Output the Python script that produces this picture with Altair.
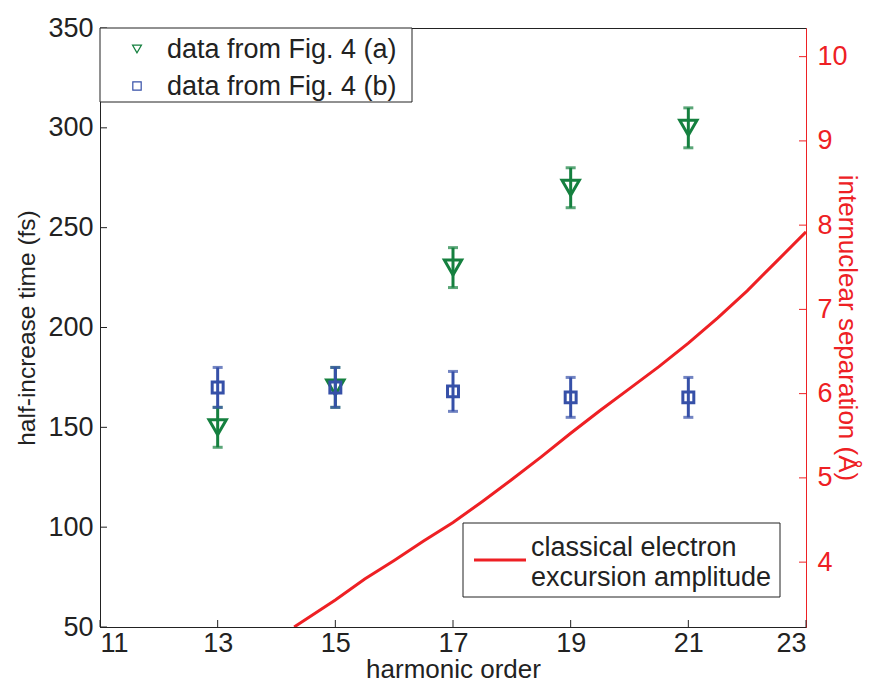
import altair as alt
import pandas as pd

# ---- data ----
harmonics = [13, 15, 17, 19, 21]
a_vals = [150, 170, 230, 270, 300]
a_lo = [140, 160, 220, 260, 290]
a_hi = [160, 180, 240, 280, 310]
b_vals = [170, 170, 168, 165, 165]
b_lo = [160, 160, 158, 155, 155]
b_hi = [180, 180, 178, 175, 175]

curve_x = [14.3, 15.0, 15.5, 16.0, 16.5, 17.0, 17.5, 18.0, 18.5, 19.0, 19.5, 20.0, 20.5, 21.0, 21.5, 22.0, 22.5, 23.0]
curve_y = [3.23, 3.55, 3.80, 4.02, 4.25, 4.47, 4.72, 4.98, 5.25, 5.53, 5.80, 6.06, 6.32, 6.60, 6.90, 7.22, 7.57, 7.92]

x_ticks = [11, 13, 15, 17, 19, 21, 23]
left_ticks = [50, 100, 150, 200, 250, 300, 350]
right_ticks = [4, 5, 6, 7, 8, 9, 10]

W, H = 706, 599
FONT = "Liberation Sans"
GREEN = "#15803f"
BLUE = "#3650a8"
RED = "#ee2024"
INK = "#222222"
TICK_FS = 27
LEG_FS = 27

df_a = pd.DataFrame({"h": harmonics, "v": a_vals, "lo": a_lo, "hi": a_hi})
df_b = pd.DataFrame({"h": harmonics, "v": b_vals, "lo": b_lo, "hi": b_hi})
df_c = pd.DataFrame({"h": curve_x, "r": curve_y})
df_xt = pd.DataFrame({"h": x_ticks})
df_lt = pd.DataFrame({"v": left_ticks})
df_rt = pd.DataFrame({"r": right_ticks})

x_scale = alt.Scale(domain=[11, 23], nice=False, zero=False)
x_axis = alt.Axis(values=x_ticks, tickSize=0, labelFontSize=TICK_FS, labelFont=FONT,
                  labelColor=INK, labelPadding=3, grid=False, domainColor=INK,
                  title="harmonic order", titleFont=FONT, titleFontSize=26,
                  titleFontWeight="normal", titleColor=INK, titlePadding=0)
yl_scale = alt.Scale(domain=[50, 350], nice=False, zero=False)
yl_axis = alt.Axis(values=left_ticks, tickSize=0, labelFontSize=TICK_FS, labelFont=FONT,
                   labelColor=INK, labelPadding=7, grid=False, domainColor=INK,
                   title="half-increase time (fs)", titleFont=FONT, titleFontSize=24.5,
                   titleFontWeight="normal", titleColor=INK, titlePadding=8)
yr_scale = alt.Scale(domain=[3.23, 10.34], nice=False, zero=False)
yr_axis = alt.Axis(values=right_ticks, orient="right", tickSize=0, labelFontSize=TICK_FS,
                   labelFont=FONT, labelColor=RED, labelPadding=11, grid=False,
                   domainColor=RED, title="internuclear separation (Å)", titleFont=FONT,
                   titleFontSize=26, titleFontWeight="normal", titleColor=RED,
                   titlePadding=-14)

X = alt.X("h:Q", scale=x_scale, axis=x_axis)
YL = lambda f: alt.Y(f"{f}:Q", scale=yl_scale, axis=yl_axis)
YR = lambda f: alt.Y(f"{f}:Q", scale=yr_scale, axis=yr_axis)


def series(df, color, shape, size):
    bar = alt.Chart(df).mark_rule(color=color, strokeWidth=3).encode(
        x=X, y=YL("lo"), y2="hi:Q")
    cap_lo = alt.Chart(df).mark_tick(color=color, orient="horizontal", size=10,
                                     thickness=3).encode(x=X, y=YL("lo"))
    cap_hi = alt.Chart(df).mark_tick(color=color, orient="horizontal", size=10,
                                     thickness=3).encode(x=X, y=YL("hi"))
    pts = alt.Chart(df).mark_point(shape=shape, size=size, color=color, filled=False,
                                   strokeWidth=3, opacity=1).encode(x=X, y=YL("v"))
    return [bar, cap_lo, cap_hi, pts]


# inward ticks
xt = alt.Chart(df_xt).mark_rule(color=INK, strokeWidth=1).encode(
    x=X, y=alt.value(H), y2=alt.value(H - 7))
lt = alt.Chart(df_lt).mark_rule(color=INK, strokeWidth=1).encode(
    y=YL("v"), x=alt.value(0), x2=alt.value(7))
rt = alt.Chart(df_rt).mark_rule(color=RED, strokeWidth=1).encode(
    y=YR("r"), x=alt.value(W), x2=alt.value(W - 7))

blank = alt.Data(values=[{}])

# legend 1 (top-left)
leg1_box = alt.Chart(blank).mark_rect(fill="white", stroke=INK, strokeWidth=1).encode(
    x=alt.value(0), x2=alt.value(312), y=alt.value(0), y2=alt.value(74))
leg1_m1 = alt.Chart(blank).mark_point(shape="triangle-down", size=80, color=GREEN,
                                      filled=False, strokeWidth=1.2, opacity=1).encode(
    x=alt.value(37), y=alt.value(21))
leg1_m2 = alt.Chart(blank).mark_point(shape="square", size=70, color=BLUE,
                                      filled=False, strokeWidth=1.2, opacity=1).encode(
    x=alt.value(37), y=alt.value(58))
leg1_t1 = alt.Chart(blank).mark_text(text="data from Fig. 4 (a)", align="left",
                                     baseline="middle", font=FONT, fontSize=LEG_FS,
                                     color=INK).encode(x=alt.value(67), y=alt.value(22))
leg1_t2 = alt.Chart(blank).mark_text(text="data from Fig. 4 (b)", align="left",
                                     baseline="middle", font=FONT, fontSize=LEG_FS,
                                     color=INK).encode(x=alt.value(67), y=alt.value(59))

# legend 2 (bottom-right)
leg2_box = alt.Chart(blank).mark_rect(fill="white", stroke=INK, strokeWidth=1).encode(
    x=alt.value(363), x2=alt.value(680), y=alt.value(495), y2=alt.value(569))
leg2_line = alt.Chart(blank).mark_rule(color=RED, strokeWidth=3).encode(
    x=alt.value(374), x2=alt.value(426), y=alt.value(532))
leg2_t1 = alt.Chart(blank).mark_text(text="classical electron", align="left",
                                     baseline="middle", font=FONT, fontSize=LEG_FS,
                                     color=INK).encode(x=alt.value(431), y=alt.value(520))
leg2_t2 = alt.Chart(blank).mark_text(text="excursion amplitude", align="left",
                                     baseline="middle", font=FONT, fontSize=LEG_FS,
                                     color=INK).encode(x=alt.value(431), y=alt.value(550))

left = alt.layer(
    *series(df_a, GREEN, "triangle-down", 300),
    *series(df_b, BLUE, "square", 120),
    xt, lt,
    leg1_box, leg1_m1, leg1_m2, leg1_t1, leg1_t2,
)

curve = alt.Chart(df_c).mark_line(color=RED, strokeWidth=3, clip=True).encode(
    x=X, y=YR("r"))
right = alt.layer(curve, rt, leg2_box, leg2_line, leg2_t1, leg2_t2)

chart = alt.layer(left, right).resolve_scale(y="independent").properties(
    width=W, height=H,
    autosize=alt.AutoSizeParams(type="none"),
    padding={"left": 92, "top": 20, "right": 57, "bottom": 57},
    background="white",
).configure_view(stroke=INK, strokeWidth=1)

chart.save("out.html", embed_options={"renderer": "svg", "actions": False})
